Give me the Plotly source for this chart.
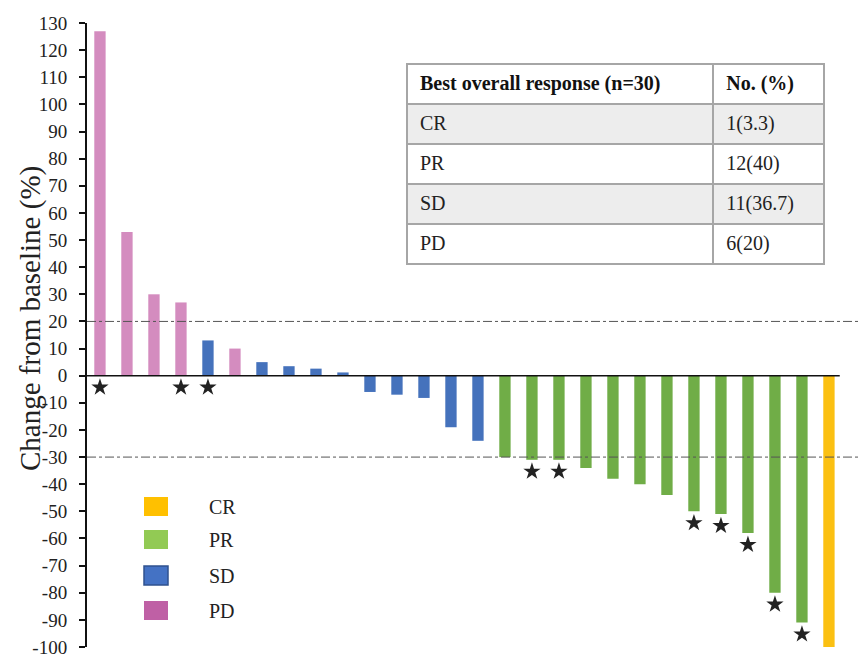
import plotly.graph_objects as go

# Best percentage change in target lesions per patient, sorted waterfall-style
changes = [127, 53, 30, 27, 13, 10, 5, 3.5, 2.6, 1.2,
           -6, -7, -8.2, -19, -24, -30, -31, -31, -34, -38,
           -40, -44, -50, -51, -58, -80, -91, -100]
responses = ["PD", "PD", "PD", "PD", "SD", "PD", "SD", "SD", "SD", "SD",
             "SD", "SD", "SD", "SD", "SD", "PR", "PR", "PR", "PR", "PR",
             "PR", "PR", "PR", "PR", "PR", "PR", "PR", "CR"]
# Patients flagged with a star
starred = [0, 3, 4, 16, 17, 22, 23, 24, 25, 26, 27]

# Summary table
table_header = ["Best overall response (n=30)", "No. (%)"]
table_labels = ["CR", "PR", "SD", "PD"]
table_counts = ["1(3.3)", "12(40)", "11(36.7)", "6(20)"]

y_ticks = list(range(-100, 131, 10))
thresholds = [20, -30]

bar_colors = {"PD": "#D48CBF", "SD": "#4572BC", "PR": "#70AD47", "CR": "#FBC012"}
legend_colors = {"CR": "#FFC000", "PR": "#92CA54", "SD": "#4472C4", "PD": "#BF60A5"}
legend_order = ["CR", "PR", "SD", "PD"]

FONT = "Liberation Serif, Times New Roman, serif"

x = list(range(len(changes)))

fig = go.Figure()
fig.add_trace(go.Bar(
    x=x, y=changes, width=0.42,
    marker=dict(color=[bar_colors[r] for r in responses], line=dict(width=0)),
    showlegend=False, hoverinfo="skip",
))

fig.add_trace(go.Scatter(
    x=[i for i in starred],
    y=[min(changes[i], 0) - 4.3 for i in starred],
    mode="markers",
    marker=dict(symbol="star", size=13, color="#222222", line=dict(width=0)),
    showlegend=False, hoverinfo="skip",
))

# summary table placed in the upper-right corner of the plot area
tbl_top, tbl_bottom = 64, 266
fig.add_trace(go.Table(
    domain=dict(x=[(407 - 87) / 773, (825 - 87) / 773],
                y=[(647 - tbl_bottom) / 624, (647 - tbl_top) / 624]),
    columnwidth=[307, 111],
    header=dict(
        values=["<b>" + "&nbsp;" + h + "</b>" for h in table_header],
        align="left", height=40,
        font=dict(family=FONT, size=20, color="#111111"),
        fill_color="white",
        line=dict(color="#A6A6A6", width=2),
    ),
    cells=dict(
        values=[["&nbsp;" + v for v in table_labels], ["&nbsp;" + v for v in table_counts]],
        align="left", height=40,
        font=dict(family=FONT, size=20, color="#222222"),
        fill_color=[["#EDEDED", "white", "#EDEDED", "white"]],
        line=dict(color="#A6A6A6", width=2),
    ),
))

shapes = []
# zero baseline
shapes.append(dict(type="line", xref="x", yref="y", x0=-0.48, x1=27.4, y0=0, y1=0,
                   line=dict(color="#111111", width=1.6)))
# response thresholds
for t in thresholds:
    shapes.append(dict(type="line", xref="paper", yref="y", x0=0, x1=1, y0=t, y1=t,
                       line=dict(color="#555555", width=1, dash="dashdot")))

# manual legend
annotations = []
legend_top = [497, 530, 566, 601]
for k, top in zip(legend_order, legend_top):
    y0 = (647 - (top + 19)) / 624
    y1 = (647 - top) / 624
    x0 = (144 - 87) / 773
    x1 = (168 - 87) / 773
    border = "#2F528F" if k == "SD" else legend_colors[k]
    shapes.append(dict(type="rect", xref="paper", yref="paper", x0=x0, x1=x1, y0=y0, y1=y1,
                       fillcolor=legend_colors[k], line=dict(color=border, width=1.5 if k == "SD" else 0)))
    annotations.append(dict(text=k, xref="paper", yref="paper", x=(207 - 87) / 773,
                            y=(647 - (top + 10)) / 624, xanchor="left", yanchor="middle",
                            showarrow=False, font=dict(family=FONT, size=20, color="#222222")))

annotations.append(dict(text="Change from baseline (%)", xref="paper", yref="paper",
                        x=(30 - 87) / 773, y=(647 - 319) / 624, textangle=-90,
                        xanchor="center", yanchor="middle", showarrow=False,
                        font=dict(family=FONT, size=29, color="#222222")))

fig.update_layout(
    width=860, height=662,
    margin=dict(l=87, r=0, t=23, b=15),
    plot_bgcolor="white", paper_bgcolor="white",
    bargap=0.5,
    shapes=shapes, annotations=annotations,
    xaxis=dict(range=[-0.48, 28.15], visible=False, fixedrange=True),
    yaxis=dict(range=[-100, 130], tickvals=y_ticks, ticktext=[str(v) for v in y_ticks],
               showgrid=False, zeroline=False, showline=True, linecolor="#111111", linewidth=2,
               ticks="outside", ticklen=6, tickwidth=1.5, tickcolor="#111111",
               ticklabelstandoff=8,
               tickfont=dict(family=FONT, size=19, color="#222222")),
)

fig.write_html("out.html")
